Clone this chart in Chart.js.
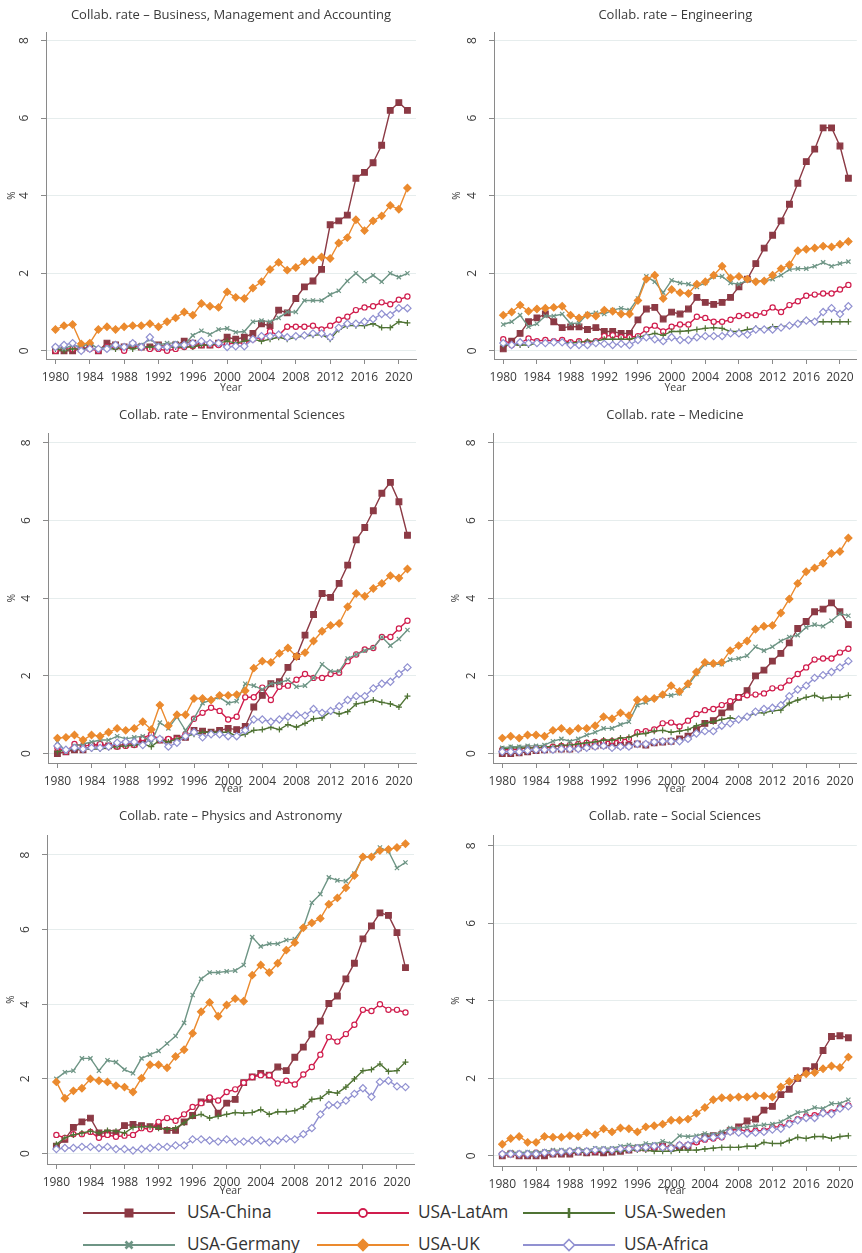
<!DOCTYPE html>
<html>
<head>
<meta charset="utf-8">
<script src="https://cdn.jsdelivr.net/npm/chart.js@4"></script>
<style>
  body { margin: 0; background: #fff; }
  #page { position: relative; width: 862px; height: 1253px; overflow: hidden; font-family: 'Open Sans', sans-serif; }
  .panel { position: absolute; width: 431px; height: 400px; }
  .leg-icon { position: absolute; }
  .leg-text { position: absolute; font-size: 17.3px; line-height: 24px; color: #333; white-space: nowrap; }
</style>
</head>
<body>
<div id="page"></div>
<script>
const years = [1980, 1981, 1982, 1983, 1984, 1985, 1986, 1987, 1988, 1989,
  1990, 1991, 1992, 1993, 1994, 1995, 1996, 1997, 1998, 1999,
  2000, 2001, 2002, 2003, 2004, 2005, 2006, 2007, 2008, 2009,
  2010, 2011, 2012, 2013, 2014, 2015, 2016, 2017, 2018, 2019,
  2020, 2021];
const xTicks = [1980, 1984, 1988, 1992, 1996, 2000, 2004, 2008, 2012, 2016, 2020];
const yTicks = [0, 2, 4, 6, 8];

// Business, Management and Accounting
const busChina = [0.0,0.0,0.0,0.05,0.1,0.0,0.2,0.15,0.1,0.15, 0.1,0.1,0.15,0.1,0.15,0.25,0.2,0.15,0.15,0.2, 0.35,0.3,0.35,0.45,0.7,0.65,1.05,0.98,1.35,1.65, 1.8,2.1,3.25,3.35,3.5,4.45,4.6,4.85,5.3,6.2, 6.4,6.2];
const busLatAm = [0.0,0.05,0.05,0.05,0.05,0.0,0.1,0.1,0.0,0.15, 0.1,0.05,0.05,0.0,0.05,0.1,0.12,0.15,0.15,0.15, 0.18,0.2,0.2,0.3,0.35,0.5,0.4,0.62,0.62,0.62, 0.65,0.55,0.65,0.8,0.88,1.05,1.12,1.15,1.25,1.2, 1.32,1.4];
const busSweden = [0.05,0.0,0.05,0.05,0.05,0.05,0.05,0.05,0.1,0.05, 0.1,0.1,0.1,0.1,0.1,0.1,0.1,0.15,0.15,0.2, 0.25,0.2,0.25,0.3,0.25,0.3,0.35,0.3,0.35,0.38, 0.4,0.42,0.3,0.55,0.65,0.65,0.65,0.7,0.6,0.6, 0.75,0.72];
const busGermany = [0.1,0.05,0.15,0.1,0.2,0.05,0.1,0.15,0.1,0.15, 0.15,0.3,0.15,0.2,0.2,0.15,0.4,0.52,0.42,0.55, 0.58,0.48,0.5,0.75,0.78,0.75,0.85,1.0,1.0,1.3, 1.3,1.3,1.45,1.55,1.8,2.0,1.8,1.95,1.78,2.0, 1.9,2.0];
const busUK = [0.55,0.65,0.68,0.18,0.2,0.55,0.62,0.55,0.62,0.65, 0.65,0.7,0.62,0.75,0.85,1.0,0.92,1.22,1.15,1.12, 1.52,1.38,1.35,1.62,1.78,2.1,2.28,2.08,2.15,2.3, 2.35,2.42,2.38,2.78,2.92,3.38,3.1,3.35,3.48,3.75, 3.65,4.2];
const busAfrica = [0.1,0.15,0.2,0.0,0.05,0.05,0.05,0.15,0.1,0.2, 0.1,0.35,0.1,0.1,0.15,0.15,0.2,0.25,0.2,0.2, 0.1,0.12,0.12,0.3,0.38,0.38,0.42,0.35,0.38,0.4, 0.45,0.45,0.35,0.6,0.7,0.7,0.75,0.82,0.95,0.92, 1.1,1.1];

// Engineering
const engChina = [0.05,0.25,0.45,0.75,0.85,0.95,0.75,0.6,0.62,0.62, 0.55,0.6,0.5,0.5,0.45,0.45,0.8,1.08,1.12,0.82, 1.0,0.95,1.08,1.38,1.25,1.2,1.25,1.38,1.65,1.85, 2.25,2.65,2.98,3.35,3.78,4.32,4.88,5.2,5.75,5.75, 5.28,4.45];
const engLatAm = [0.3,0.15,0.2,0.32,0.25,0.28,0.25,0.28,0.22,0.25, 0.22,0.25,0.38,0.4,0.35,0.35,0.38,0.55,0.65,0.5, 0.62,0.68,0.68,0.88,0.85,0.75,0.75,0.8,0.9,0.92, 0.92,0.98,1.12,1.0,1.18,1.28,1.42,1.45,1.48,1.48, 1.58,1.7];
const engSweden = [0.15,0.15,0.15,0.15,0.2,0.2,0.22,0.22,0.2,0.22, 0.25,0.25,0.3,0.3,0.3,0.3,0.35,0.4,0.45,0.4, 0.5,0.5,0.52,0.55,0.58,0.6,0.58,0.5,0.5,0.55, 0.58,0.55,0.62,0.62,0.65,0.7,0.8,0.75,0.75,0.75, 0.75,0.75];
const engGermany = [0.68,0.75,0.92,0.62,0.7,0.9,0.9,0.95,0.7,0.72, 0.95,0.98,0.95,1.05,1.1,1.05,1.35,1.92,1.78,1.5, 1.82,1.75,1.72,1.65,1.75,1.92,1.92,1.75,1.72,1.82, 1.8,1.8,1.85,1.95,2.1,2.12,2.12,2.18,2.28,2.18, 2.25,2.3];
const engUK = [0.92,1.0,1.18,1.02,1.08,1.1,1.12,1.15,0.92,0.85, 0.92,0.9,1.05,1.02,0.95,0.95,1.3,1.85,1.95,1.35, 1.58,1.5,1.48,1.72,1.78,1.95,2.18,1.88,1.92,1.85, 1.78,1.8,1.95,2.12,2.22,2.58,2.62,2.65,2.7,2.68, 2.75,2.82];
const engAfrica = [0.2,0.15,0.22,0.2,0.2,0.2,0.22,0.22,0.15,0.15, 0.15,0.2,0.18,0.15,0.18,0.15,0.28,0.35,0.3,0.25, 0.35,0.28,0.28,0.35,0.38,0.38,0.38,0.45,0.45,0.42, 0.55,0.55,0.55,0.6,0.65,0.7,0.78,0.75,1.0,1.1, 0.95,1.15];

// Environmental Sciences
const envChina = [0.0,0.05,0.1,0.1,0.2,0.2,0.2,0.2,0.25,0.25, 0.35,0.45,0.35,0.35,0.4,0.42,0.6,0.58,0.55,0.6, 0.65,0.62,0.7,1.2,1.5,1.8,1.85,2.22,2.5,3.05, 3.58,4.12,4.02,4.38,4.85,5.5,5.82,6.25,6.7,6.98, 6.48,5.62];
const envLatAm = [0.15,0.05,0.25,0.2,0.22,0.25,0.2,0.18,0.2,0.22, 0.4,0.5,0.35,0.38,0.38,0.5,0.9,1.05,1.18,1.1, 0.88,0.95,1.45,1.45,1.7,1.38,1.72,1.75,1.9,2.05, 1.95,1.95,2.05,2.08,2.38,2.55,2.68,2.72,3.0,3.0, 3.22,3.42];
const envSweden = [0.05,0.1,0.12,0.12,0.12,0.12,0.15,0.18,0.2,0.22, 0.25,0.18,0.35,0.3,0.38,0.45,0.5,0.55,0.55,0.55, 0.55,0.45,0.5,0.6,0.62,0.68,0.62,0.75,0.68,0.78, 0.9,0.92,1.08,1.02,1.08,1.28,1.32,1.38,1.32,1.28, 1.2,1.48];
const envGermany = [0.3,0.05,0.2,0.25,0.3,0.35,0.35,0.45,0.38,0.42, 0.45,0.28,0.8,0.65,0.95,0.6,0.9,1.3,1.38,1.45, 1.3,1.35,1.8,1.75,1.65,1.8,1.82,1.9,1.72,1.75, 1.95,2.3,2.12,2.12,2.45,2.55,2.65,2.72,3.0,2.78, 2.95,3.18];
const envUK = [0.4,0.42,0.48,0.35,0.48,0.45,0.55,0.65,0.6,0.65, 0.82,0.62,1.25,0.72,1.0,1.0,1.42,1.42,1.38,1.5, 1.5,1.52,1.62,2.2,2.38,2.35,2.58,2.72,2.5,2.6, 2.9,3.15,3.3,3.35,3.78,4.12,4.05,4.25,4.38,4.58, 4.52,4.75];
const envAfrica = [0.2,0.1,0.15,0.12,0.15,0.15,0.18,0.28,0.3,0.3, 0.22,0.4,0.38,0.18,0.28,0.45,0.55,0.42,0.5,0.5, 0.45,0.45,0.6,0.88,0.88,0.82,0.88,0.95,1.0,0.98, 1.15,1.05,1.1,1.22,1.38,1.48,1.48,1.68,1.8,1.85, 2.05,2.22];

// Medicine
const medChina = [0.0,0.0,0.02,0.05,0.08,0.1,0.12,0.12,0.12,0.15, 0.18,0.2,0.22,0.2,0.22,0.22,0.25,0.22,0.28,0.3, 0.32,0.38,0.45,0.62,0.78,0.85,1.05,1.2,1.45,1.62, 2.0,2.15,2.38,2.58,2.85,3.22,3.4,3.65,3.72,3.88, 3.65,3.32];
const medLatAm = [0.1,0.1,0.12,0.15,0.15,0.15,0.18,0.2,0.22,0.25, 0.28,0.3,0.32,0.32,0.35,0.38,0.55,0.58,0.62,0.78, 0.8,0.7,0.85,1.02,1.12,1.15,1.25,1.35,1.45,1.5, 1.52,1.55,1.68,1.7,1.88,2.05,2.22,2.42,2.45,2.45, 2.6,2.7];
const medSweden = [0.12,0.15,0.15,0.15,0.15,0.18,0.18,0.22,0.22,0.25, 0.28,0.3,0.35,0.35,0.4,0.42,0.5,0.52,0.58,0.6, 0.55,0.58,0.62,0.72,0.78,0.82,0.88,0.92,0.88,0.95, 1.05,1.05,1.1,1.12,1.3,1.38,1.45,1.5,1.42,1.45, 1.45,1.5];
const medGermany = [0.15,0.18,0.18,0.2,0.2,0.22,0.32,0.38,0.32,0.38, 0.48,0.55,0.65,0.65,0.75,0.82,1.25,1.32,1.42,1.5, 1.5,1.55,1.75,2.05,2.3,2.3,2.3,2.42,2.45,2.52, 2.75,2.65,2.75,2.9,3.0,3.05,3.25,3.32,3.28,3.42, 3.6,3.55];
const medUK = [0.4,0.45,0.4,0.48,0.48,0.45,0.6,0.65,0.58,0.65, 0.65,0.72,0.95,0.9,1.05,0.98,1.38,1.4,1.42,1.52, 1.75,1.6,1.8,2.1,2.35,2.32,2.35,2.65,2.78,2.9, 3.2,3.28,3.3,3.62,3.98,4.38,4.68,4.78,4.9,5.15, 5.2,5.55];
const medAfrica = [0.05,0.05,0.05,0.08,0.1,0.1,0.1,0.12,0.12,0.12, 0.15,0.18,0.2,0.15,0.18,0.18,0.25,0.25,0.3,0.32, 0.32,0.32,0.38,0.52,0.58,0.58,0.72,0.78,0.88,0.95, 1.08,1.15,1.18,1.25,1.48,1.65,1.75,1.95,2.02,2.1, 2.22,2.38];

// Physics and Astronomy
const phyChina = [0.2,0.38,0.7,0.85,0.95,0.55,0.55,0.55,0.75,0.78, 0.75,0.72,0.72,0.62,0.62,0.85,1.02,1.38,1.45,1.08, 1.35,1.45,1.9,2.05,2.15,2.1,2.32,2.22,2.58,2.85, 3.2,3.55,4.02,4.22,4.68,5.1,5.75,6.1,6.45,6.38, 5.92,4.98];
const phyLatAm = [0.5,0.42,0.52,0.52,0.58,0.42,0.5,0.45,0.48,0.5, 0.68,0.65,0.85,0.95,0.88,1.05,1.25,1.35,1.5,1.42, 1.65,1.72,1.9,2.05,2.1,2.1,1.88,1.95,1.85,2.12, 2.32,2.65,3.12,3.0,3.2,3.45,3.85,3.82,4.0,3.85, 3.85,3.78];
const phySweden = [0.25,0.42,0.5,0.55,0.6,0.55,0.62,0.6,0.55,0.7, 0.72,0.72,0.68,0.65,0.68,0.82,1.0,1.05,0.95,1.0, 1.05,1.1,1.08,1.1,1.18,1.05,1.12,1.12,1.15,1.25, 1.45,1.48,1.65,1.62,1.78,2.0,2.22,2.25,2.4,2.2, 2.22,2.45];
const phyGermany = [2.0,2.18,2.22,2.55,2.55,2.22,2.5,2.45,2.25,2.15, 2.55,2.65,2.75,2.95,3.15,3.5,4.25,4.68,4.85,4.85, 4.88,4.9,5.05,5.8,5.55,5.62,5.62,5.72,5.75,6.05, 6.72,6.95,7.4,7.32,7.3,7.5,7.95,7.95,8.2,8.1, 7.65,7.8];
const phyUK = [1.92,1.48,1.68,1.75,2.0,1.95,1.92,1.82,1.78,1.65, 2.02,2.38,2.38,2.3,2.6,2.78,3.22,3.8,4.05,3.68, 3.98,4.15,4.08,4.78,5.05,4.85,5.1,5.45,5.65,6.05, 6.18,6.3,6.68,6.85,7.12,7.45,7.95,7.95,8.12,8.15, 8.2,8.3];
const phyAfrica = [0.12,0.15,0.15,0.18,0.18,0.15,0.18,0.12,0.12,0.08, 0.12,0.15,0.18,0.18,0.22,0.22,0.38,0.38,0.35,0.32, 0.38,0.32,0.32,0.35,0.35,0.3,0.35,0.4,0.38,0.52, 0.68,1.05,1.3,1.3,1.42,1.6,1.75,1.52,1.92,1.95, 1.8,1.78];

// Social Sciences
const socChina = [0.0,0.05,0.0,0.0,0.0,0.0,0.05,0.05,0.05,0.1, 0.08,0.1,0.08,0.1,0.12,0.15,0.2,0.2,0.22,0.25, 0.2,0.22,0.25,0.38,0.5,0.52,0.55,0.65,0.75,0.9, 0.95,1.18,1.28,1.58,1.72,2.0,2.2,2.3,2.72,3.08, 3.1,3.05];
const socLatAm = [0.05,0.05,0.05,0.05,0.08,0.08,0.1,0.1,0.12,0.12, 0.12,0.12,0.15,0.15,0.18,0.2,0.2,0.22,0.22,0.25, 0.2,0.28,0.28,0.35,0.42,0.45,0.48,0.65,0.7,0.62, 0.65,0.65,0.75,0.75,0.85,0.95,1.02,1.05,1.12,1.12, 1.25,1.3];
const socSweden = [0.05,0.05,0.05,0.05,0.05,0.08,0.08,0.08,0.1,0.1, 0.1,0.12,0.12,0.12,0.12,0.15,0.15,0.15,0.12,0.12, 0.12,0.15,0.15,0.15,0.18,0.2,0.22,0.22,0.22,0.25, 0.25,0.35,0.32,0.32,0.4,0.48,0.45,0.5,0.5,0.45, 0.5,0.52];
const socGermany = [0.05,0.1,0.08,0.1,0.1,0.12,0.15,0.15,0.15,0.18, 0.15,0.2,0.2,0.2,0.25,0.28,0.25,0.32,0.3,0.38, 0.32,0.52,0.5,0.52,0.58,0.55,0.62,0.72,0.72,0.75, 0.78,0.8,0.82,0.88,1.0,1.12,1.15,1.25,1.22,1.35, 1.35,1.45];
const socUK = [0.3,0.45,0.5,0.35,0.35,0.5,0.48,0.48,0.52,0.5, 0.6,0.55,0.7,0.62,0.72,0.7,0.62,0.75,0.78,0.82, 0.92,0.92,0.95,1.1,1.25,1.45,1.5,1.5,1.52,1.52, 1.55,1.55,1.52,1.78,1.92,2.02,2.12,2.15,2.25,2.32, 2.28,2.55];
const socAfrica = [0.05,0.05,0.05,0.05,0.05,0.08,0.08,0.1,0.12,0.12, 0.12,0.15,0.15,0.15,0.18,0.18,0.2,0.22,0.25,0.22, 0.2,0.28,0.28,0.42,0.45,0.48,0.5,0.62,0.6,0.58, 0.6,0.62,0.68,0.7,0.82,0.92,0.98,0.98,1.1,1.08, 1.22,1.28];

// series look, in Stata's plotting order (legend fills row by row)
const seriesNames = ["USA-China", "USA-LatAm", "USA-Sweden", "USA-Germany", "USA-UK", "USA-Africa"];
const seriesStyle = [
  { color: "#8c3a45", point: "rect", radius: 4, fill: "#8c3a45" },
  { color: "#d01d4d", point: "circle", radius: 2.6, fill: "#ffffff" },
  { color: "#4f7334", point: "cross", radius: 3, fill: "#4f7334" },
  { color: "#6e9585", point: "crossRot", radius: 3, fill: "#6e9585" },
  { color: "#eb8a2e", point: "rectRot", radius: 3.6, fill: "#eb8a2e" },
  { color: "#9191d1", point: "rectRot", radius: 3.6, fill: "#ffffff" }
];

const panels = [
  { title: "Collab. rate \u2013 Business, Management and Accounting", x: 0, y: 0,
    series: [busChina, busLatAm, busSweden, busGermany, busUK, busAfrica],
    left: 46, top: 32, titleTop: 7.2, bottom: 359, right: 416, ymin: -0.21, ymax: 8.22, yearPad: 6, pctPad: 6 },
  { title: "Collab. rate \u2013 Engineering", x: 431, y: 0,
    series: [engChina, engLatAm, engSweden, engGermany, engUK, engAfrica],
    left: 63, top: 32, titleTop: 7.2, bottom: 359, right: 431, ymin: -0.21, ymax: 8.22, yearPad: 6, pctPad: 20.5 },
  { title: "Collab. rate \u2013 Environmental Sciences", x: 0, y: 400,
    series: [envChina, envLatAm, envSweden, envGermany, envUK, envAfrica],
    left: 48, top: 33, titleTop: 7.9, bottom: 363, right: 416, ymin: -0.24, ymax: 8.25, yearPad: 4.7, pctPad: 5.7 },
  { title: "Collab. rate \u2013 Medicine", x: 431, y: 400,
    series: [medChina, medLatAm, medSweden, medGermany, medUK, medAfrica],
    left: 62, top: 33, titleTop: 7.9, bottom: 363, right: 431, ymin: -0.24, ymax: 8.25, yearPad: 4.4, pctPad: 19 },
  { title: "Collab. rate \u2013 Physics and Astronomy", x: 0, y: 800,
    series: [phyChina, phyLatAm, phySweden, phyGermany, phyUK, phyAfrica],
    left: 47, top: 35, titleTop: 8.9, bottom: 364, right: 414, ymin: -0.28, ymax: 8.535, yearPad: 3, pctPad: 5 },
  { title: "Collab. rate \u2013 Social Sciences", x: 431, y: 800,
    series: [socChina, socLatAm, socSweden, socGermany, socUK, socAfrica],
    left: 62, top: 35, titleTop: 8.9, bottom: 366, right: 431, ymin: -0.26, ymax: 8.28, yearPad: 3, pctPad: 19 }
];

const W = 431, H = 400;
const axisColor = "#8a8a8a";
const gridColor = "#e6eded";
const textColor = "#3a3a3a";
Chart.defaults.font.family = "'Open Sans', sans-serif";

const page = document.getElementById("page");

panels.forEach(p => {
  const box = document.createElement("div");
  box.className = "panel";
  box.style.left = p.x + "px";
  box.style.top = p.y + "px";
  const canvas = document.createElement("canvas");
  canvas.width = W;
  canvas.height = H;
  box.appendChild(canvas);
  page.appendChild(box);

  const datasets = p.series.map((vals, i) => ({
    label: seriesNames[i],
    data: vals,
    borderColor: seriesStyle[i].color,
    borderWidth: 1.4,
    pointStyle: seriesStyle[i].point,
    pointRadius: seriesStyle[i].radius,
    pointBackgroundColor: seriesStyle[i].fill,
    pointBorderColor: seriesStyle[i].color,
    pointBorderWidth: 1.2,
    tension: 0,
    order: seriesNames.length - i // later series drawn on top
  }));

  new Chart(canvas, {
    type: "line",
    data: { labels: years, datasets: datasets },
    options: {
      responsive: false,
      animation: false,
      layout: { padding: { left: 0, right: W - p.right, top: 0, bottom: 0 } },
      plugins: {
        legend: { display: false },
        tooltip: { enabled: false },
        title: {
          display: true,
          text: p.title,
          fullSize: false,
          color: textColor,
          font: { size: 13, weight: "normal" },
          padding: { top: p.titleTop, bottom: p.top - p.titleTop - 15.6 }
        }
      },
      scales: {
        x: {
          type: "linear",
          min: 1978.9,
          max: 2022,
          afterBuildTicks: s => { s.ticks = xTicks.map(v => ({ value: v })); },
          afterFit: s => { s.height = H - p.bottom; },
          grid: { drawOnChartArea: false, tickLength: 5, tickColor: axisColor },
          border: { color: axisColor, width: 1 },
          ticks: { padding: 6, color: textColor, font: { size: 12 }, maxRotation: 0, autoSkip: false, callback: v => String(v) },
          title: { display: true, text: "Year", color: textColor, font: { size: 10.5 }, padding: { top: 0, bottom: p.yearPad } }
        },
        y: {
          min: p.ymin,
          max: p.ymax,
          afterBuildTicks: s => { s.ticks = yTicks.map(v => ({ value: v })); },
          afterFit: s => { s.width = p.left; },
          grid: { color: gridColor, tickLength: 5, tickColor: axisColor },
          border: { color: axisColor, width: 1 },
          ticks: { minRotation: 90, maxRotation: 90, crossAlign: "center", padding: 12.5, color: textColor, font: { size: 12 }, callback: v => String(v) },
          title: { display: true, text: "%", color: textColor, font: { size: 10 }, padding: { top: p.pctPad, bottom: 0 } }
        }
      }
    }
  });
});

// legend, three columns
const legLineX = [83, 317, 523];
const legTextX = [187, 418, 624];
const legRowY = [1212, 1244];

function legendIcon(st) {
  const c = st.color;
  const cx = 46, cy = 8;
  let mark = "";
  if (st.point === "rect") {
    mark = `<rect x="${cx - 4.5}" y="${cy - 4.5}" width="9" height="9" fill="${c}"/>`;
  } else if (st.point === "circle") {
    mark = `<circle cx="${cx}" cy="${cy}" r="4" fill="#fff" stroke="${c}" stroke-width="1.8"/>`;
  } else if (st.point === "cross") {
    mark = `<line x1="${cx}" y1="${cy - 5}" x2="${cx}" y2="${cy + 5}" stroke="${c}" stroke-width="2.6"/>`;
  } else if (st.point === "crossRot") {
    mark = `<path d="M${cx - 3.5} ${cy - 3.5}L${cx + 3.5} ${cy + 3.5}M${cx + 3.5} ${cy - 3.5}L${cx - 3.5} ${cy + 3.5}" stroke="${c}" stroke-width="2.6"/>`;
  } else {
    mark = `<polygon points="${cx},${cy - 5.5} ${cx + 5.5},${cy} ${cx},${cy + 5.5} ${cx - 5.5},${cy}" fill="${st.fill}" stroke="${c}" stroke-width="1.6"/>`;
  }
  return `<svg width="92" height="16" xmlns="http://www.w3.org/2000/svg"><line x1="0" y1="${cy}" x2="92" y2="${cy}" stroke="${c}" stroke-width="2.2"/>${mark}</svg>`;
}

seriesNames.forEach((name, i) => {
  const col = i % 3, row = Math.floor(i / 3);
  const icon = document.createElement("div");
  icon.className = "leg-icon";
  icon.style.left = legLineX[col] + "px";
  icon.style.top = (legRowY[row] - 8) + "px";
  icon.innerHTML = legendIcon(seriesStyle[i]);
  page.appendChild(icon);

  const txt = document.createElement("div");
  txt.className = "leg-text";
  txt.style.left = legTextX[col] + "px";
  txt.style.top = (legRowY[row] - 12) + "px";
  txt.textContent = name;
  page.appendChild(txt);
});
</script>
</body>
</html>
